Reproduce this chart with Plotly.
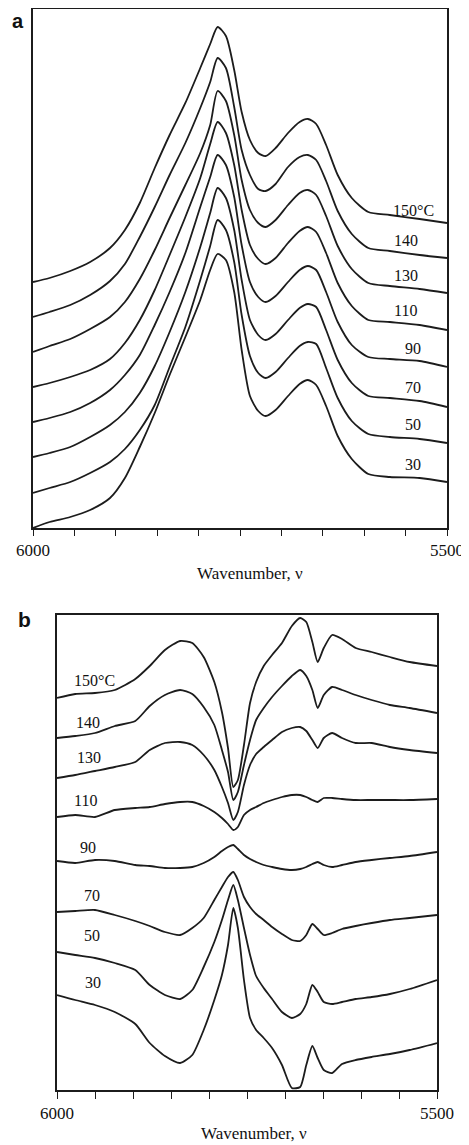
import plotly.graph_objects as go

# ---- panel a: stacked NIR spectra (arbitrary units, offset per temperature) ----
wn_a = [6000, 5980, 5955, 5931, 5907, 5889, 5871, 5853, 5835, 5816, 5798, 5786, 5777, 5767, 5757,
        5748, 5738, 5728, 5719, 5707, 5692, 5678, 5668, 5658, 5646, 5632, 5615, 5595, 5569, 5533, 5500]

a_150 = [246, 250, 257, 266, 280, 298, 325, 360, 393, 425, 460, 484, 501, 492, 458,
         416, 388, 375, 372, 380, 395, 406, 409, 404, 383, 353, 330, 316, 313, 309, 305]
a_140 = [211, 216, 223, 233, 247, 264, 291, 321, 353, 385, 420, 446, 470, 460, 421,
         378, 353, 339, 337, 344, 361, 371, 373, 368, 347, 317, 294, 280, 277, 273, 270]
a_130 = [176, 182, 189, 199, 211, 226, 249, 278, 310, 343, 375, 403, 437, 427, 393,
         348, 318, 305, 301, 308, 323, 335, 338, 333, 312, 282, 259, 245, 242, 239, 235]
a_110 = [141, 145, 151, 158, 169, 185, 208, 238, 273, 311, 350, 384, 406, 395, 363,
         318, 283, 269, 264, 270, 285, 297, 301, 296, 275, 245, 222, 208, 206, 203, 198]
a_90 = [106, 110, 116, 125, 138, 153, 173, 203, 236, 275, 321, 351, 373, 363, 331,
        283, 246, 231, 226, 232, 246, 258, 262, 258, 236, 206, 183, 171, 169, 167, 161]
a_70 = [71, 75, 81, 91, 103, 116, 135, 162, 196, 236, 281, 315, 340, 330, 298,
        248, 208, 193, 188, 194, 208, 220, 224, 221, 198, 168, 145, 132, 130, 127, 121]
a_50 = [35, 40, 46, 55, 66, 79, 98, 123, 161, 201, 248, 282, 308, 298, 266,
        213, 172, 155, 150, 156, 170, 182, 186, 184, 160, 130, 107, 94, 91, 89, 85]
a_30 = [0, 6, 11, 18, 30, 50, 81, 115, 153, 191, 228, 258, 274, 268, 236,
        178, 132, 117, 112, 118, 132, 144, 148, 143, 122, 92, 69, 54, 51, 50, 46]

# ---- panel b: difference spectra (arbitrary units, offset per temperature) ----
wn_b = [6000, 5976, 5950, 5924, 5897, 5878, 5858, 5838, 5822, 5807, 5793, 5783, 5775, 5768, 5762, 5754, 5746,
        5738, 5728, 5717, 5704, 5691, 5680, 5672, 5664, 5657, 5649, 5638, 5625, 5607, 5586, 5562, 5536, 5500]

b_150 = [392, 396, 397, 400, 411, 424, 440, 449, 447, 433, 408, 378, 342, 303, 310, 345, 387,
         408, 424, 435, 447, 464, 472, 468, 448, 428, 442, 455, 451, 442, 438, 433, 428, 424]
b_140 = [352, 354, 357, 364, 369, 384, 395, 400, 396, 383, 365, 340, 318, 290, 298, 325, 350,
         370, 382, 393, 404, 414, 420, 414, 400, 382, 395, 403, 400, 395, 390, 385, 382, 377]
b_130 = [312, 315, 319, 323, 328, 340, 347, 348, 345, 335, 320, 303, 287, 270, 278, 305, 325,
         336, 343, 350, 358, 362, 363, 359, 350, 342, 352, 357, 352, 347, 347, 343, 340, 337]
b_110 = [273, 275, 273, 280, 282, 283, 286, 288, 288, 284, 278, 272, 266, 260, 263, 275, 280,
         283, 287, 290, 293, 295, 295, 293, 290, 288, 292, 292, 291, 290, 290, 290, 290, 291]
b_90 = [229, 227, 230, 229, 225, 224, 222, 222, 223, 227, 233, 239, 243, 245, 241, 235, 231,
        228, 225, 223, 221, 220, 221, 223, 226, 228, 225, 223, 225, 228, 230, 232, 234, 238]
b_70 = [178, 179, 180, 175, 169, 164, 158, 155, 162, 172, 190, 203, 213, 218, 210, 193, 183,
        176, 170, 163, 156, 150, 149, 155, 166, 161, 155, 157, 161, 164, 167, 170, 172, 175]
b_50 = [138, 135, 132, 127, 120, 105, 95, 91, 100, 123, 148, 170, 190, 205, 190, 162, 135,
        114, 102, 91, 78, 72, 76, 86, 105, 98, 88, 86, 88, 91, 93, 96, 101, 110]
b_30 = [95, 90, 85, 78, 66, 47, 34, 27, 35, 60, 90, 115, 145, 182, 162, 110, 72,
        60, 52, 42, 25, 2, 3, 25, 44, 32, 20, 17, 26, 30, 33, 36, 40, 47]

temps = ["150°C", "140", "130", "110", "90", "70", "50", "30"]
series_a = [a_150, a_140, a_130, a_110, a_90, a_70, a_50, a_30]
series_b = [b_150, b_140, b_130, b_110, b_90, b_70, b_50, b_30]

# label anchor points (data coords)
lab_a_x = [5568, 5566, 5566, 5566, 5553, 5553, 5553, 5553]
lab_a_y = [318, 288, 253, 218, 180, 141, 104, 64]
lab_b_x = [5980, 5977, 5976, 5980, 5972, 5967, 5967, 5966]
lab_b_y = [410, 368, 333, 290, 243, 195, 155, 108]

ink = "#1c1c1c"
serif = "Liberation Serif"

# page body has an 8px margin, so the figure is a bit smaller than the window
W, H, OFF = 461, 1137, 8


def fx(p):
    return (p - OFF) / W


def fy(p):
    return 1 - (p - OFF) / H


fig = go.Figure()

for name, ys in zip(temps, series_a):
    fig.add_trace(go.Scatter(x=wn_a, y=ys, mode="lines", name=name,
                             line=dict(color=ink, width=1.8, shape="spline", smoothing=0.7),
                             xaxis="x", yaxis="y"))

for name, ys in zip(temps, series_b):
    fig.add_trace(go.Scatter(x=wn_b, y=ys, mode="lines", name=name,
                             line=dict(color=ink, width=1.8, shape="spline", smoothing=0.6),
                             xaxis="x2", yaxis="y2"))

tickvals = list(range(6000, 5499, -50))
ticktext = ["6000"] + [""] * 9 + ["5500"]

common_x = dict(range=[6000, 5500], tickvals=tickvals, ticktext=ticktext,
                ticks="outside", tickwidth=1.3, tickcolor=ink,
                showline=True, linewidth=1.6, linecolor=ink, mirror=True,
                showgrid=False, zeroline=False, automargin=False,
                tickfont=dict(family=serif, size=17, color="#111"))
common_y = dict(showticklabels=False, ticks="", showline=True, linewidth=1.6,
                linecolor=ink, mirror=True, showgrid=False, zeroline=False, automargin=False)

annotations = []
for t, x, y in zip(temps, lab_a_x, lab_a_y):
    annotations.append(dict(x=x, y=y, xref="x", yref="y", text=t, showarrow=False,
                            xanchor="left", yanchor="middle",
                            font=dict(family=serif, size=16, color="#111")))
for t, x, y in zip(temps, lab_b_x, lab_b_y):
    annotations.append(dict(x=x, y=y, xref="x2", yref="y2", text=t, showarrow=False,
                            xanchor="left", yanchor="middle",
                            font=dict(family=serif, size=16, color="#111")))

annotations += [
    dict(x=fx(250), y=fy(573), xref="paper", yref="paper", text="Wavenumber, ν",
         showarrow=False, xanchor="center", yanchor="middle",
         font=dict(family=serif, size=17, color="#111")),
    dict(x=fx(254), y=fy(1133), xref="paper", yref="paper", text="Wavenumber, ν",
         showarrow=False, xanchor="center", yanchor="middle",
         font=dict(family=serif, size=17, color="#111")),
    # panel letters; "a" sits right at the top edge so anchor its box there
    dict(x=fx(18), y=1, xref="paper", yref="paper", text="<b>a</b>",
         showarrow=False, xanchor="center", yanchor="top",
         font=dict(family="Liberation Sans", size=20, color="#111")),
    dict(x=fx(24), y=fy(619), xref="paper", yref="paper", text="<b>b</b>",
         showarrow=False, xanchor="center", yanchor="middle",
         font=dict(family="Liberation Sans", size=21, color="#111")),
]

fig.update_layout(
    template="none",
    width=W, height=H,
    margin=dict(l=0, r=0, t=0, b=0, pad=0),
    paper_bgcolor="white", plot_bgcolor="white",
    showlegend=False,
    xaxis=dict(domain=[fx(33), fx(447)], anchor="y", ticklen=6, **common_x),
    yaxis=dict(domain=[fy(528), fy(9)], anchor="x", range=[0, 519], **common_y),
    xaxis2=dict(domain=[fx(57), fx(437)], anchor="y2", ticklen=7, **common_x),
    yaxis2=dict(domain=[fy(1090), fy(615)], anchor="x2", range=[0, 475], **common_y),
    annotations=annotations,
)

fig.write_html("out.html")
